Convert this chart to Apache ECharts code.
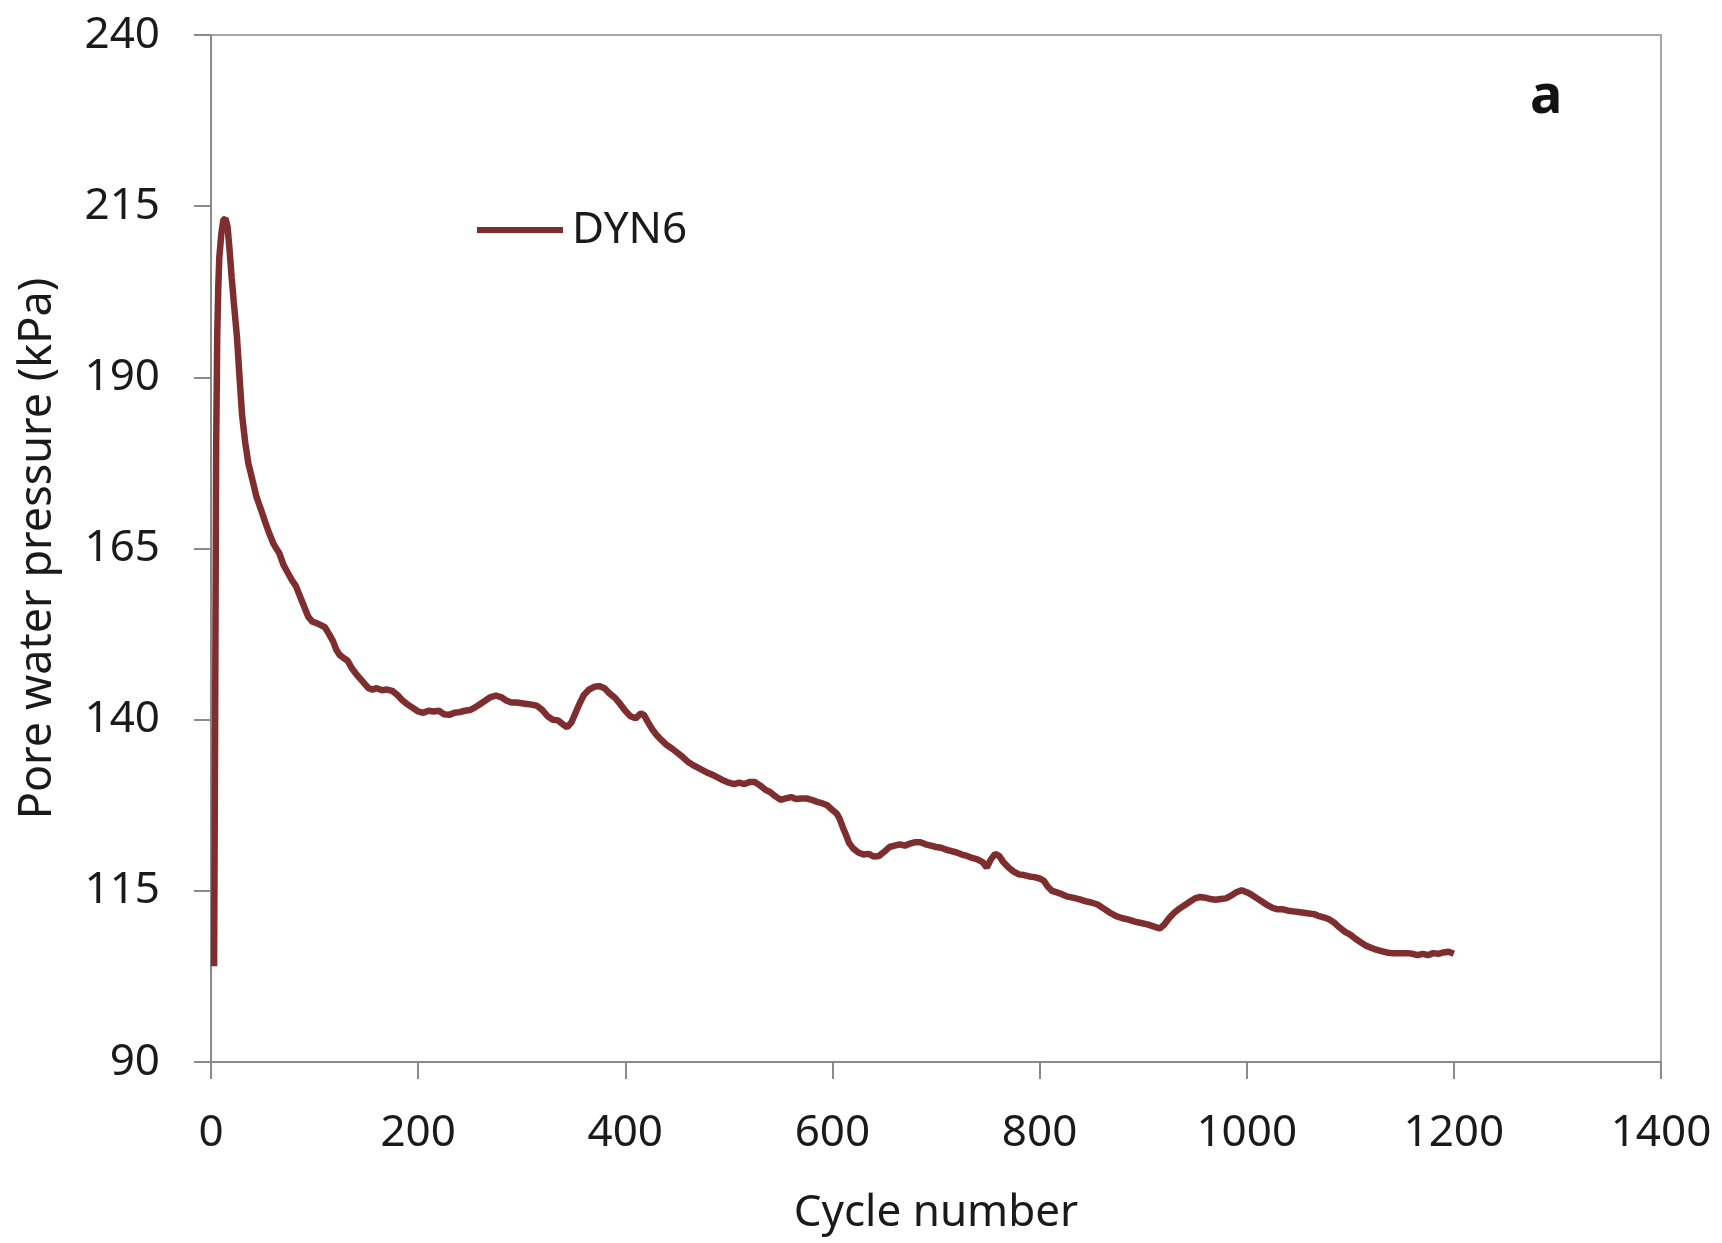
<!DOCTYPE html>
<html>
<head>
<meta charset="utf-8">
<script src="https://cdn.jsdelivr.net/npm/echarts@6/dist/echarts.min.js"></script>
<style>
html,body{margin:0;padding:0;background:#fff;}
#chart{width:1722px;height:1243px;}
</style>
</head>
<body>
<div id="chart"></div>
<script>
const seriesName = 'DYN6';
const xTicks = [0, 200, 400, 600, 800, 1000, 1200, 1400];
const yTicks = [90, 115, 140, 165, 190, 215, 240];
const cycleNumber = [
  3,4,5,6,7,8,10,12,14,16,18,20,22,25,28,30,33,36,40,44,48,52,56,60,63,66,70,74,78,82,86,90,94,98,
  102,106,110,114,118,121,124,128,132,136,140,144,148,152,156,160,165,170,175,180,185,190,195,200,
  205,210,215,220,225,230,235,240,245,250,255,260,265,270,275,280,285,290,295,300,305,310,315,320,
  325,330,335,340,344,348,352,356,360,365,370,375,380,385,390,395,400,405,410,415,418,422,426,430,
  435,440,445,450,455,460,465,470,475,480,485,490,495,500,505,510,515,520,525,530,535,540,545,550,
  555,560,565,570,575,580,585,590,595,600,604,607,610,613,616,620,625,630,635,640,645,650,655,660,
  665,670,675,680,685,690,695,700,705,710,715,720,725,730,735,740,745,749,753,757,761,765,770,775,
  780,785,790,795,800,804,808,812,816,820,826,832,838,844,850,856,862,868,874,880,886,892,898,904,
  910,916,920,925,930,935,940,945,950,955,960,965,970,975,980,985,990,995,1000,1005,1010,1015,1020,
  1025,1030,1035,1040,1045,1050,1055,1060,1065,1070,1075,1080,1085,1090,1095,1100,1105,1110,1115,
  1120,1125,1130,1135,1140,1145,1150,1155,1160,1165,1170,1175,1180,1185,1190,1195,1200
];
const porePressure = [
  104,140,180,196,203,207.5,211,213,213.2,212,208.5,204.5,201,196,189,184.5,180.5,177.5,175,172.5,170.8,169,167.3,165.8,165,164.3,162.6,161.5,160.4,159.5,158,156.5,155,154.3,
  154.1,153.8,153.5,152.5,151.4,150.2,149.5,149,148.6,147.5,146.7,146,145.3,144.6,144.4,144.6,144.3,144.4,144.2,143.6,142.8,142.2,141.7,141.2,
  141.0,141.3,141.2,141.3,140.8,140.7,141.0,141.1,141.3,141.4,141.8,142.3,142.8,143.3,143.5,143.3,142.8,142.5,142.5,142.4,142.3,142.2,142.0,141.4,
  140.5,140.0,139.9,139.3,138.9,139.6,141.0,142.4,143.6,144.4,144.8,144.9,144.6,143.8,143.2,142.3,141.3,140.5,140.2,140.9,140.7,139.6,138.6,137.8,
  137.0,136.3,135.8,135.2,134.6,133.9,133.4,133.0,132.6,132.2,131.9,131.5,131.1,130.8,130.6,130.8,130.6,130.9,130.9,130.4,129.8,129.4,128.8,128.3,
  128.5,128.7,128.4,128.5,128.5,128.3,128.0,127.8,127.5,126.8,126.3,125.5,124.3,123.2,122.0,121.2,120.6,120.3,120.4,120.0,120.1,120.7,121.4,121.6,
  121.8,121.6,121.9,122.1,122.1,121.8,121.6,121.4,121.3,121.0,120.8,120.6,120.3,120.1,119.8,119.6,119.2,118.4,119.6,120.4,120.1,119.2,118.4,117.8,
  117.4,117.3,117.1,117.0,116.8,116.5,115.6,115.0,114.8,114.6,114.2,114.0,113.8,113.5,113.3,113.0,112.4,111.8,111.3,111.0,110.8,110.5,110.3,110.1,
  109.8,109.5,110.0,111.0,111.8,112.4,112.9,113.4,113.9,114.1,114.0,113.8,113.7,113.8,113.9,114.3,114.8,115.1,114.8,114.4,113.9,113.4,112.9,
  112.5,112.3,112.3,112.1,112.0,111.9,111.8,111.7,111.6,111.3,111.1,110.8,110.3,109.6,109.0,108.6,108.0,107.5,107.0,
  106.7,106.4,106.2,106.0,105.9,105.9,105.9,105.9,105.8,105.6,105.8,105.6,105.9,105.8,106.0,106.1,105.8
];
const panelLabel = 'a';
const xName = 'Cycle number';
const yName = 'Pore water pressure (kPa)';

const FONT = '"Noto Sans", "Open Sans", sans-serif';
const AXIS_GRAY = '#8a8a8a';
const LINE_COLOR = '#7e2e2e';

const chart = echarts.init(document.getElementById('chart'), null, {renderer: 'canvas'});
chart.setOption({
  backgroundColor: '#ffffff',
  animation: false,
  textStyle: {fontFamily: FONT},
  grid: {
    left: 211, right: 61, top: 35, bottom: 181,
    show: true, borderColor: '#a6a6a6', borderWidth: 2, backgroundColor: 'transparent'
  },
  legend: {
    show: true,
    left: 472, top: 203,
    icon: 'rect',
    itemWidth: 86, itemHeight: 6, itemGap: 10,
    data: [seriesName],
    textStyle: {fontFamily: FONT, fontSize: 44, color: '#1a1a1a', padding: [0, 0, 0, 4]}
  },
  xAxis: {
    type: 'value',
    min: xTicks[0], max: xTicks[xTicks.length - 1], interval: 200,
    name: xName, nameLocation: 'middle', nameGap: 129,
    nameTextStyle: {fontFamily: FONT, fontSize: 44, color: '#1a1a1a'},
    axisLine: {show: true, onZero: false, lineStyle: {color: AXIS_GRAY, width: 2}},
    axisTick: {show: true, inside: false, length: 17, lineStyle: {color: AXIS_GRAY, width: 2}},
    axisLabel: {margin: 49, fontFamily: FONT, fontSize: 44, color: '#1a1a1a', formatter: v => String(v)},
    splitLine: {show: false}
  },
  yAxis: {
    type: 'value',
    min: yTicks[0], max: yTicks[yTicks.length - 1],
    name: yName, nameLocation: 'middle', nameGap: 150, nameRotate: 90,
    nameTextStyle: {fontFamily: FONT, fontSize: 45, color: '#1a1a1a'},
    axisLine: {show: true, onZero: false, lineStyle: {color: AXIS_GRAY, width: 2}},
    axisTick: {show: true, inside: false, length: 17, customValues: yTicks, lineStyle: {color: AXIS_GRAY, width: 2}},
    axisLabel: {margin: 51, fontFamily: FONT, fontSize: 44, color: '#1a1a1a', customValues: yTicks, formatter: v => String(v)},
    splitLine: {show: false}
  },
  graphic: [{
    type: 'text',
    left: 1530, top: 71,
    style: {text: panelLabel, fontFamily: FONT, fontSize: 54, fontWeight: 'bold', fill: '#111'}
  }],
  series: [{
    name: seriesName,
    type: 'line',
    data: cycleNumber.map((c, i) => [c, porePressure[i]]),
    symbol: 'none',
    showSymbol: false,
    smooth: false,
    lineStyle: {color: LINE_COLOR, width: 6.5},
    itemStyle: {color: LINE_COLOR}
  }]
});
</script>
</body>
</html>
